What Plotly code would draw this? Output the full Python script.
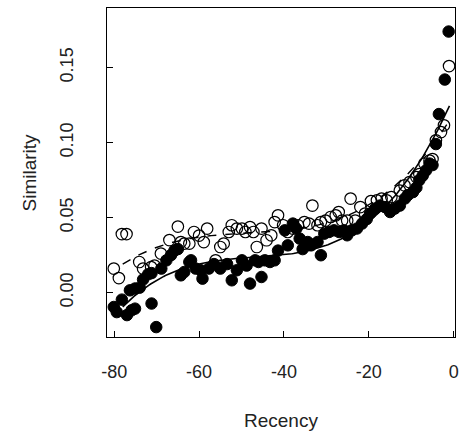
import numpy as np
import plotly.graph_objects as go

# Filled circles (series 1)
filled_x = [-80.1, -79.4, -78.2, -77.0, -75.9, -75.1, -76.3, -75.1, -74.0, -73.2, -72.0, -71.2, -71.2, -70.1,
            -68.9, -67.7, -66.6, -65.8, -65.0, -64.3, -63.5, -62.3, -61.9, -60.8, -59.6, -59.2, -57.7, -56.5,
            -55.0, -53.4, -52.3, -51.1, -49.9, -48.8, -48.0, -46.8, -46.0, -45.3, -44.5, -43.3, -42.2, -41.4,
            -39.8, -39.1, -37.9, -37.1, -36.3, -35.6, -34.4, -33.6, -32.1, -31.3, -30.5, -29.4, -28.2, -27.0,
            -25.9, -25.1, -24.0, -22.8, -21.6, -20.5, -19.7, -18.5, -17.4, -16.2, -15.0, -13.9, -12.7, -11.5,
            -10.8, -9.6, -8.8, -8.1, -7.3, -6.5, -5.7, -5.0, -4.2, -3.5, -2.1, -1.2]
filled_y = [-0.0096, -0.013, -0.0047, -0.015, -0.0118, -0.0107, 0.0015, 0.0027, 0.0033, 0.0087, 0.0122, 0.013,
            -0.0073, -0.023, 0.016, 0.0215, 0.025, 0.028, 0.029, 0.0115, 0.0137, 0.0204, 0.0215, 0.016, 0.0149,
            0.0093, 0.016, 0.019, 0.016, 0.019, 0.0082, 0.0149, 0.0215, 0.018, 0.006, 0.0215, 0.0204, 0.0104,
            0.0215, 0.0204, 0.0215, 0.028, 0.0415, 0.0315, 0.046, 0.0427, 0.036, 0.029, 0.0337, 0.0315, 0.0337,
            0.0249, 0.0393, 0.0404, 0.0415, 0.0404, 0.0415, 0.0382, 0.0415, 0.0427, 0.046, 0.049, 0.0527, 0.056,
            0.058, 0.057, 0.0537, 0.056, 0.058, 0.0627, 0.065, 0.067, 0.070, 0.075, 0.078, 0.0815, 0.086, 0.085,
            0.099, 0.119, 0.142, 0.174]

# Open circles (series 2)
open_x = [-80.1, -78.9, -78.2, -77.1, -74.1, -73.2, -71.3, -70.5, -69.0, -67.0, -65.0, -64.3, -63.5, -62.3,
          -61.2, -60.0, -58.9, -58.1, -56.1, -55.0, -54.2, -53.0, -52.3, -51.1, -49.9, -49.1, -48.0, -47.2,
          -46.4, -45.3, -44.1, -43.0, -42.2, -41.4, -40.2, -39.1, -37.9, -36.7, -35.2, -34.1, -33.3, -32.1,
          -31.3, -30.2, -29.0, -27.8, -27.1, -26.3, -25.1, -24.3, -23.2, -22.0, -20.9, -19.5, -18.1, -17.0,
          -15.8, -14.7, -12.7, -11.6, -10.4, -8.8, -8.1, -6.9, -5.7, -5.0, -4.2, -3.0, -2.3, -1.1]
open_y = [0.016, 0.0097, 0.039, 0.039, 0.0204, 0.016, 0.017, 0.018, 0.026, 0.035, 0.044, 0.0337, 0.0327, 0.0327,
          0.0404, 0.038, 0.0337, 0.0427, 0.0215, 0.0304, 0.0327, 0.0404, 0.0449, 0.0427, 0.0427, 0.0404, 0.0437,
          0.0404, 0.0304, 0.0427, 0.0349, 0.0382, 0.047, 0.0515, 0.0449, 0.0404, 0.0427, 0.0449, 0.047, 0.046,
          0.058, 0.0449, 0.047, 0.048, 0.0504, 0.0515, 0.0537, 0.048, 0.048, 0.0627, 0.048, 0.057, 0.0527, 0.061,
          0.0615, 0.0627, 0.0615, 0.0637, 0.068, 0.0715, 0.0737, 0.077, 0.079, 0.086, 0.088, 0.089, 0.1015, 0.107,
          0.1115, 0.151]

x_ticks = [-80, -60, -40, -20, 0]
x_tick_labels = ["-80", "-60", "-40", "-20", "0"]
y_ticks = [0.00, 0.05, 0.10, 0.15]
y_tick_labels = ["0.00", "0.05", "0.10", "0.15"]

# cubic trend fits computed from the data
fit_x = np.linspace(-78, -1, 200)
cf = np.polyfit(filled_x, filled_y, 3)
co = np.polyfit(open_x, open_y, 3)

FONT = "Liberation Sans, Arial, Helvetica, sans-serif"

fig = go.Figure()
fig.add_trace(go.Scatter(x=filled_x, y=filled_y, mode="markers",
                         marker=dict(symbol="circle", size=11.5, color="black",
                                     line=dict(color="black", width=1))))
fig.add_trace(go.Scatter(x=open_x, y=open_y, mode="markers",
                         marker=dict(symbol="circle-open", size=11.5, color="black",
                                     line=dict(color="black", width=1.2))))
fig.add_trace(go.Scatter(x=fit_x, y=np.polyval(cf, fit_x), mode="lines",
                         line=dict(color="black", width=1.6)))
fig.add_trace(go.Scatter(x=fit_x, y=np.polyval(co, fit_x), mode="lines",
                         line=dict(color="black", width=1.4, dash="dash")))

fig.update_layout(
    width=460, height=431,
    margin=dict(l=107, r=1, t=8, b=94),
    paper_bgcolor="white", plot_bgcolor="white",
    showlegend=False,
    font=dict(family=FONT, size=18, color="#222"),
    xaxis=dict(range=[-81.7, 0.3], tickvals=x_ticks, ticktext=x_tick_labels,
               ticks="inside", ticklen=6, tickcolor="black", showgrid=False, zeroline=False,
               showline=True, linecolor="black", linewidth=1, mirror=True,
               ticklabelstandoff=18, ticklabeloverflow="allow", tickfont=dict(size=18)),
    yaxis=dict(range=[-0.0296, 0.1897], tickvals=y_ticks, ticktext=y_tick_labels,
               ticks="inside", ticklen=6, tickcolor="black", showgrid=False, zeroline=False,
               showline=True, linecolor="black", linewidth=1, mirror=True,
               tickangle=-90, ticklabelstandoff=26, tickfont=dict(size=18)),
    annotations=[
        dict(text="Recency", xref="paper", yref="paper", x=0.5, y=0, yshift=-83,
             xanchor="center", yanchor="middle", showarrow=False, font=dict(size=19)),
        dict(text="Similarity", xref="paper", yref="paper", x=0, y=0.5, xshift=-78,
             xanchor="center", yanchor="middle", textangle=-90, showarrow=False, font=dict(size=19)),
    ],
)

fig.write_html("out.html", config={"displayModeBar": False},
               post_script="document.body.style.margin='0';document.body.style.padding='0';"
                           "document.documentElement.style.overflow='hidden';")
